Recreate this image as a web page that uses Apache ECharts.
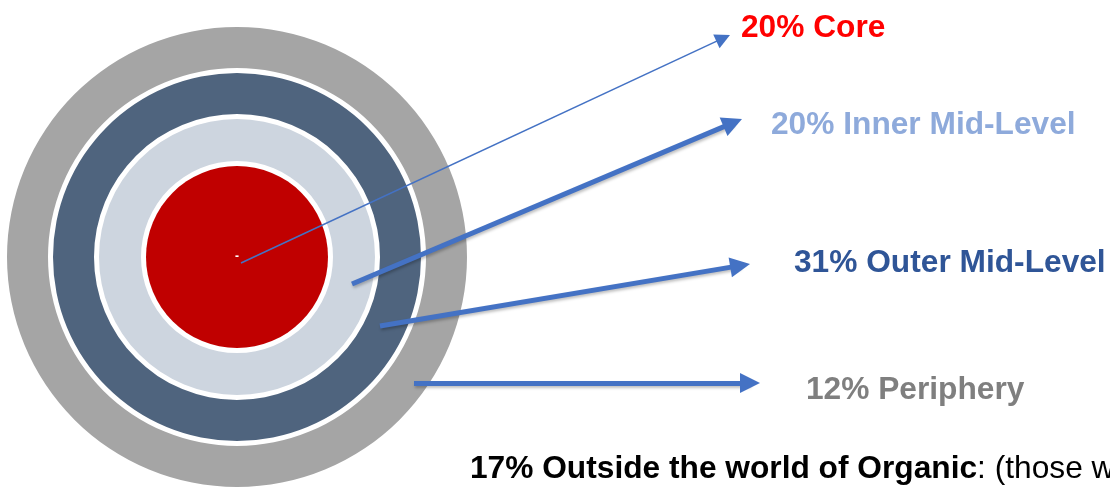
<!DOCTYPE html>
<html>
<head>
<meta charset="utf-8">
<script src="https://cdn.jsdelivr.net/npm/echarts@6/dist/echarts.min.js"></script>
<style>
  html, body { margin: 0; padding: 0; background: #ffffff; }
  #chart { width: 1110px; height: 489px; }
</style>
</head>
<body>
<div id="chart"></div>
<script>
// ---- data ----
const segments = ['Core', 'Inner Mid-Level', 'Outer Mid-Level', 'Periphery', 'Outside the world of Organic'];
const shares = [20, 20, 31, 12, 17];
const outsideNote = ': (those who are not organic consumers)';

// ---- styles / layout ----
const ringColors = ['#C00000', '#CDD5DF', '#4F647E', '#A5A5A5'];
const labelColors = ['#FF0000', '#8EAADB', '#2F5597', '#7F7F7F', '#000000'];
const ringRadii = [[0, 91], [96, 138], [143, 184], [189, 230]];
const center = [237, 257];
const labelPos = [[741, 30], [771, 127], [794, 265], [806, 392], [470, 471]];
const arrowStart = [[241, 263], [352, 284], [380, 326], [414, 383]];
const arrowTip = [[730, 35], [742, 119], [750, 264], [760, 383]];
const headSize = [[12, 15], [17, 20], [17, 20], [17, 20]];
const FONT = '"Liberation Sans", Arial, Helvetica, sans-serif';
const FS = 31.7;

// triangle symbols are centred on the line end, so pull the end back by half the head length
function endFor(i) {
  const s = arrowStart[i], t = arrowTip[i];
  const dx = t[0] - s[0], dy = t[1] - s[1];
  const len = Math.sqrt(dx * dx + dy * dy);
  const back = headSize[i][1] / 2;
  return [t[0] - dx / len * back, t[1] - dy / len * back];
}

const chart = echarts.init(document.getElementById('chart'), null, { renderer: 'canvas' });

const series = [];
// concentric rings (one pie per segment)
for (let i = 0; i < 4; i++) {
  series.push({
    type: 'pie',
    center: center,
    radius: ringRadii[i],
    silent: true,
    z: 1,
    startAngle: 90,
    itemStyle: { color: ringColors[i], borderWidth: 0 },
    label: i === 0 ? {
      show: true, position: 'center', formatter: '-',
      color: '#ffffff', fontSize: 12, fontFamily: FONT, fontWeight: 'bold'
    } : { show: false },
    labelLine: { show: false },
    emphasis: { disabled: true },
    data: [{ name: segments[i], value: shares[i] }]
  });
}
// arrows
series.push({
  type: 'lines',
  coordinateSystem: 'cartesian2d',
  z: 5,
  silent: true,
  symbol: ['none', 'triangle'],
  symbolSize: headSize[0],
  lineStyle: { color: '#4472C4', width: 1.5, opacity: 1, curveness: 0 },
  data: [{ coords: [arrowStart[0], endFor(0)] }]
});
series.push({
  type: 'lines',
  coordinateSystem: 'cartesian2d',
  z: 5,
  silent: true,
  symbol: ['none', 'triangle'],
  symbolSize: headSize[1],
  lineStyle: {
    color: '#4472C4', width: 5, opacity: 1, curveness: 0,
    shadowColor: 'rgba(0,0,0,0.25)', shadowBlur: 3, shadowOffsetX: 1, shadowOffsetY: 2
  },
  data: [1, 2, 3].map(i => ({ coords: [arrowStart[i], endFor(i)] }))
});

const graphics = [];
for (let i = 0; i < 4; i++) {
  graphics.push({
    type: 'text',
    left: labelPos[i][0],
    top: labelPos[i][1] - 18,
    silent: true,
    style: {
      text: shares[i] + '% ' + segments[i],
      fill: labelColors[i],
      font: 'bold ' + FS + 'px ' + FONT
    }
  });
}
graphics.push({
  type: 'text',
  left: labelPos[4][0],
  top: labelPos[4][1] - 18,
  silent: true,
  style: {
    text: '{b|' + shares[4] + '% ' + segments[4] + '}{n|' + outsideNote + '}',
    rich: {
      b: { fontWeight: 'bold', fontSize: FS, fontFamily: FONT, fill: labelColors[4], color: labelColors[4] },
      n: { fontWeight: 'normal', fontSize: FS, fontFamily: FONT, fill: labelColors[4], color: labelColors[4] }
    }
  }
});

chart.setOption({
  animation: false,
  backgroundColor: '#ffffff',
  grid: { left: 0, right: 0, top: 0, bottom: 0 },
  xAxis: { type: 'value', min: 0, max: 1110, show: false },
  yAxis: { type: 'value', min: 0, max: 489, inverse: true, show: false },
  series: series,
  graphic: graphics
});
</script>
</body>
</html>
